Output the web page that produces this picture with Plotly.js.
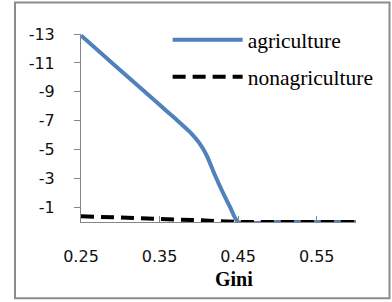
<!DOCTYPE html>
<html>
<head>
<meta charset="utf-8">
<script src="https://cdn.plot.ly/plotly-3.0.1.min.js"></script>
<style>
  html, body { margin: 0; padding: 0; background: #fff; }
  #chart { width: 392px; height: 302px; }
</style>
</head>
<body>
<div id="chart"></div>
<script>
// Data
const giniAgri = [0.25, 0.30, 0.35, 0.37, 0.39, 0.40, 0.41, 0.42, 0.43, 0.44, 0.45, 0.50, 0.55, 0.60];
const agriculture = [-12.9, -10.5, -8.1, -7.15, -6.15, -5.5, -4.6, -3.3, -2.1, -1.0, 0, 0, 0, 0];
const giniNonAgri = [0.25, 0.30, 0.35, 0.40, 0.45, 0.50, 0.55, 0.60];
const nonagriculture = [-0.4, -0.32, -0.22, -0.12, 0, 0, 0, 0];
const yTickVals = [-13, -11, -9, -7, -5, -3, -1];
const yTickText = ["-13", "-11", "-9", "-7", "-5", "-3", "-1"];
const xTickVals = [0.25, 0.35, 0.45, 0.55];
const xTickText = ["0.25", "0.35", "0.45", "0.55"];

const SERIF = "Liberation Serif";
const SANS = "DejaVu Sans";

const traces = [
  {
    x: giniAgri, y: agriculture, name: "agriculture", type: "scatter", mode: "lines",
    line: { color: "#4F81BD", width: 4, shape: "spline", smoothing: 0.6 },
    legendgroup: "a"
  },
  {
    x: giniNonAgri, y: nonagriculture, name: "nonagriculture", type: "scatter", mode: "lines",
    line: { color: "#000000", width: 4, dash: "13px,7px" },
    legendgroup: "b"
  }
];

const layout = {
  width: 392, height: 302,
  margin: { l: 81, r: 36, t: 34, b: 80 },
  paper_bgcolor: "#ffffff", plot_bgcolor: "#ffffff",
  font: { family: SANS },
  showlegend: true,
  legend: {
    x: 0.315, y: 1.078, xanchor: "left", yanchor: "top",
    bgcolor: "rgba(0,0,0,0)", borderwidth: 0,
    font: { family: SERIF, size: 21.5, color: "#000" },
    itemwidth: 70, tracegroupgap: 6, traceorder: "grouped"
  },
  xaxis: {
    range: [0.25, 0.6], showgrid: false, zeroline: false,
    showline: true, linecolor: "#868686", linewidth: 1,
    tickvals: xTickVals, ticktext: xTickText,
    ticks: "inside", ticklen: 6, tickcolor: "#868686",
    ticklabelstandoff: 20,
    tickfont: { family: SANS, size: 16, color: "#111" }
  },
  yaxis: {
    range: [0, -13], showgrid: false, zeroline: false,
    showline: true, linecolor: "#868686", linewidth: 1,
    tickvals: yTickVals, ticktext: yTickText,
    ticks: "outside", ticklen: 6, tickcolor: "#868686",
    ticklabelstandoff: 16,
    tickfont: { family: SANS, size: 16, color: "#111" }
  },
  annotations: [
    {
      text: "<b>Gini</b>", xref: "paper", yref: "paper", x: 0.556, y: -0.305,
      xanchor: "center", yanchor: "middle", showarrow: false,
      font: { family: SERIF, size: 20, color: "#000" }
    }
  ],
  shapes: [
    {
      type: "rect", xref: "paper", yref: "paper",
      x0: -0.24, x1: 1.1218, y0: -0.4053, y1: 1.168,
      line: { color: "#8c8c8c", width: 2 }, layer: "below"
    }
  ]
};

Plotly.newPlot("chart", traces, layout, { displayModeBar: false, staticPlot: true });
</script>
</body>
</html>
